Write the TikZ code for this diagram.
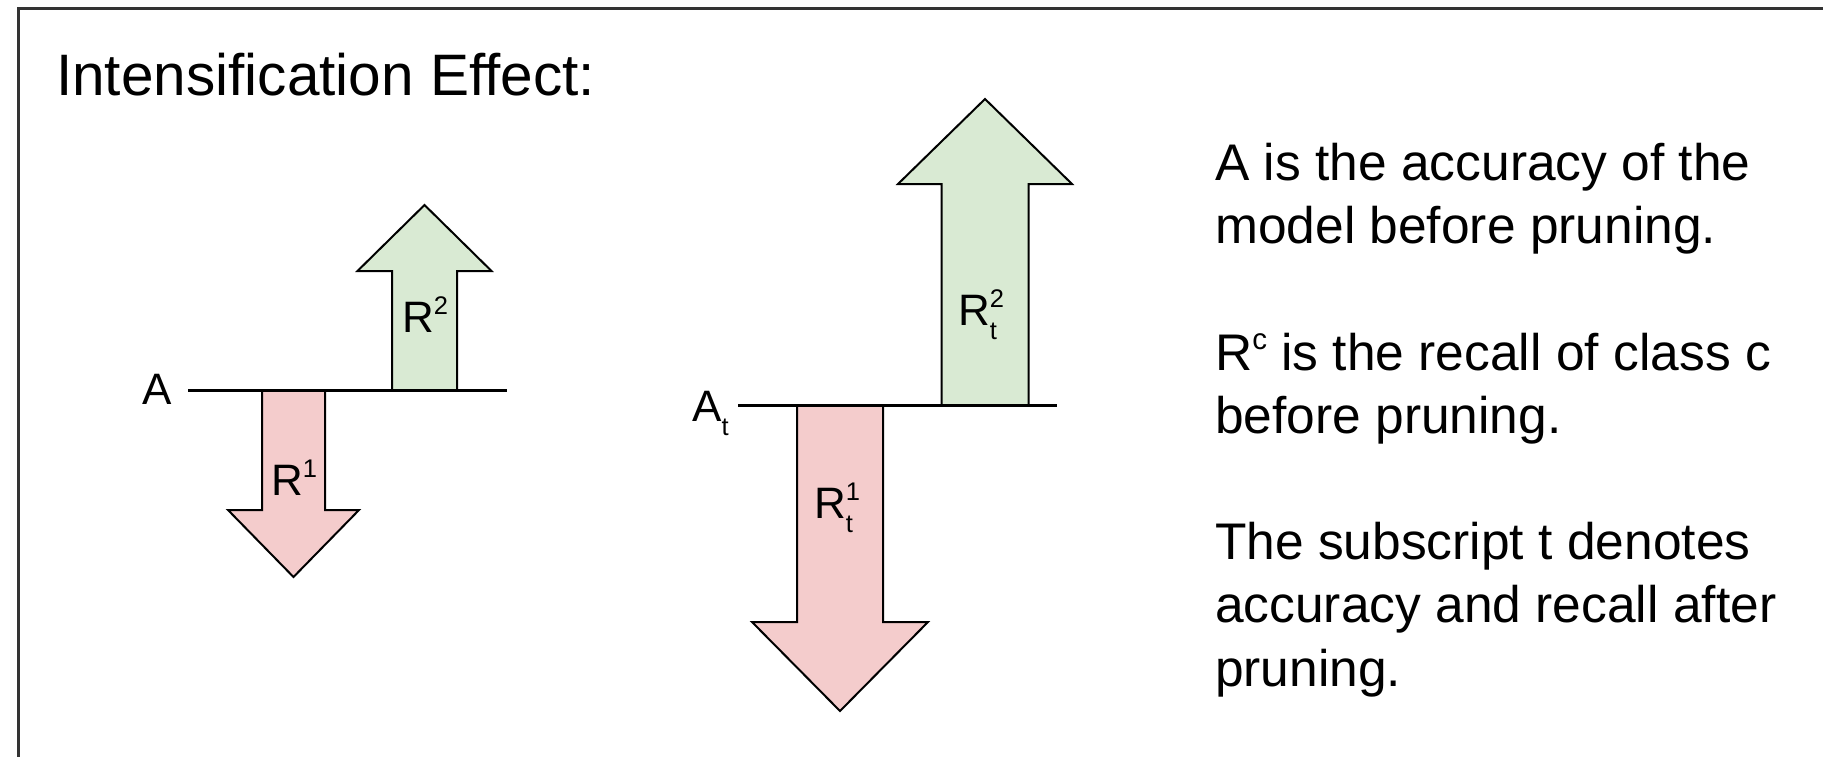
\documentclass[tikz,border=0pt]{standalone}
\usepackage{fontspec}
\setmainfont{Liberation Sans}
\definecolor{upgreen}{HTML}{D9EAD3}
\definecolor{downred}{HTML}{F4CCCC}
\definecolor{framegray}{HTML}{333333}
\newcommand{\smallsz}{\fontsize{25.5}{26}\selectfont}
\newcommand{\lblsup}[1]{\raisebox{18pt}{\smallsz #1}}
\newcommand{\lblsub}[1]{\raisebox{-14pt}{\smallsz #1}}
\newcommand{\lblboth}[2]{\rlap{\lblsup{#1}}\rlap{\lblsub{#2}}\phantom{\smallsz #1}}
\newcommand{\bodysup}[1]{\raisebox{21pt}{\fontsize{29.5}{30}\selectfont #1}}
% style, cx, y0, shaft half width, y1, head half width, tip y
\newcommand{\blockarrow}[7]{%
  \draw[#1] (#2-#4,#3) -- (#2-#4,#5) -- (#2-#6,#5) -- (#2,#7) -- (#2+#6,#5) -- (#2+#4,#5) -- (#2+#4,#3) -- cycle;}
\begin{document}
\begin{tikzpicture}[x=1pt,y=-1pt,
  lbl/.style={inner sep=0pt, font=\fontsize{44}{50}\selectfont},
  body/.style={inner sep=0pt, anchor=base west, font=\fontsize{51.5}{63}\selectfont},
  title/.style={inner sep=0pt, anchor=base west, font=\fontsize{58.5}{64}\selectfont},
  upbox/.style={draw=black, line width=2pt, fill=upgreen, line join=miter},
  downbox/.style={draw=black, line width=2pt, fill=downred, line join=miter},
  level/.style={draw=black, line width=3pt},
  frame/.style={draw=framegray, line width=3pt}]
\useasboundingbox (0,0) rectangle (1823,757);
\fill[white] (0,0) rectangle (1823,757);
\draw[frame] (18,770) -- (18,9) -- (1840,9);

\node[title] (title) at (56,96) {Intensification Effect:};

% left diagram
\blockarrow{downbox}{293.5}{390}{31.5}{510}{65.5}{577}
\blockarrow{upbox}{424.5}{390}{32.5}{271}{67}{205}
\coordinate (l0) at (188,390);
\coordinate (l1) at (507,390);
\draw[level] (l0) -- (l1);
\node[lbl] (lA) at (157,389) {A};
\node[lbl, anchor=base] (lR2) at (425,332) {R\lblsup{2}};
\node[lbl, anchor=base] (lR1) at (294,495) {R\lblsup{1}};

% right diagram
\blockarrow{downbox}{840}{405}{43}{622}{88}{711}
\blockarrow{upbox}{985}{405}{43.5}{184}{87}{99}
\coordinate (r0) at (738,405);
\coordinate (r1) at (1057,405);
\draw[level] (r0) -- (r1);
\node[lbl, anchor=base west] (rA) at (692,421) {A\lblsub{t}};
\node[lbl, anchor=base] (rR2) at (981,325) {R\lblboth{2}{t}};
\node[lbl, anchor=base] (rR1) at (837,518) {R\lblboth{1}{t}};

% explanation
\node[body] (t1) at (1215,180) {A is the accuracy of the};
\node[body] (t2) at (1215,243) {model before pruning.};
\node[body] (t3) at (1215,370) {R\bodysup{c} is the recall of class c};
\node[body] (t4) at (1215,433) {before pruning.};
\node[body] (t5) at (1215,559) {The subscript t denotes};
\node[body] (t6) at (1215,622) {accuracy and recall after};
\node[body] (t7) at (1215,686) {pruning.};
\end{tikzpicture}
\end{document}
